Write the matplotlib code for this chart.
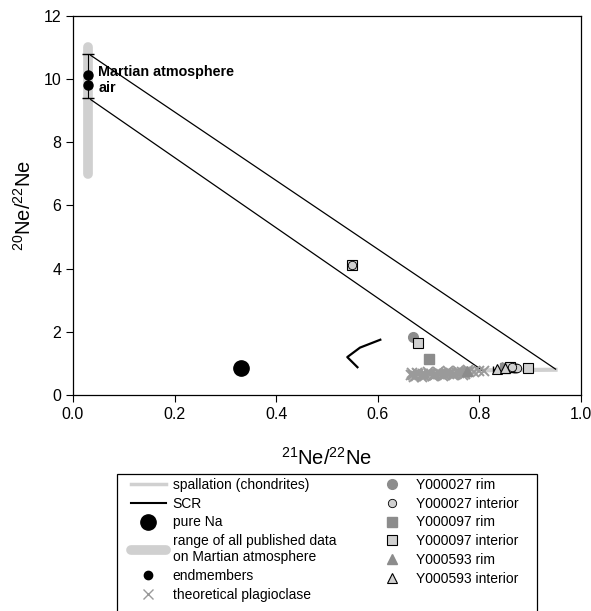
import numpy as np
import matplotlib.pyplot as plt
from matplotlib.lines import Line2D
from matplotlib.patches import Rectangle

plt.rcParams['font.family'] = ['Liberation Sans', 'DejaVu Sans']
plt.rcParams['mathtext.fontset'] = 'custom'
plt.rcParams['mathtext.rm'] = 'Liberation Sans'
plt.rcParams['mathtext.it'] = 'Liberation Sans'

grey = "#8c8c8c"
light = "#d0d0d0"

# spallation line (chondrites)
spall_x = [0.78, 0.95]
spall_y = [0.78, 0.80]

# SCR lines
scr_up_x = [0.035, 0.95]
scr_up_y = [10.75, 0.82]
scr_lo_x = [0.035, 0.805]
scr_lo_y = [9.35, 0.79]
scr_curve_x = [0.605, 0.565, 0.54, 0.56]
scr_curve_y = [1.75, 1.50, 1.20, 0.88]

# pure Na
na_x = [0.33]
na_y = [0.84]

# range of Martian atmosphere
range_x = [0.03, 0.03]
range_y = [7.0, 11.0]

# endmembers (Martian atmosphere, air)
end_x = [0.03, 0.03]
end_y = [10.13, 9.81]
end_err_lo = 9.4
end_err_hi = 10.8

# theoretical plagioclase
plag_x = [0.665, 0.67, 0.675, 0.68, 0.685, 0.69, 0.695, 0.70, 0.705, 0.71,
          0.715, 0.72, 0.725, 0.73, 0.735, 0.74, 0.745, 0.75, 0.755, 0.76,
          0.765, 0.77, 0.775, 0.78, 0.79, 0.80, 0.81,
          0.668, 0.678, 0.688, 0.698, 0.708, 0.718, 0.728, 0.738, 0.748,
          0.758, 0.768, 0.778, 0.672, 0.692, 0.712, 0.732, 0.752, 0.772]
plag_y = [0.62, 0.64, 0.61, 0.65, 0.63, 0.66, 0.62, 0.65, 0.67, 0.64,
          0.66, 0.68, 0.65, 0.67, 0.69, 0.66, 0.70, 0.68, 0.71, 0.69,
          0.72, 0.70, 0.73, 0.72, 0.74, 0.75, 0.76,
          0.70, 0.71, 0.57, 0.72, 0.59, 0.73, 0.60, 0.75, 0.62,
          0.76, 0.64, 0.79, 0.58, 0.60, 0.62, 0.63, 0.65, 0.67]

# samples
y27_rim_x = [0.67, 0.86, 0.87]
y27_rim_y = [1.85, 0.88, 0.86]
y27_int_x = [0.55, 0.875, 0.865]
y27_int_y = [4.12, 0.84, 0.90]
y97_rim_x = [0.70, 0.85]
y97_rim_y = [1.15, 0.86]
y97_int_x = [0.55, 0.68, 0.895, 0.86]
y97_int_y = [4.12, 1.65, 0.86, 0.90]
y593_rim_x = [0.775, 0.845, 0.86]
y593_rim_y = [0.76, 0.88, 0.90]
y593_int_x = [0.835, 0.85]
y593_int_y = [0.82, 0.86]

fig = plt.figure(figsize=(5.91, 6.11), dpi=100)
ax = fig.add_axes([0.1235, 0.3535, 0.8595, 0.6205])

ax.plot(range_x, range_y, color=light, lw=7, solid_capstyle='round', zorder=1)
ax.plot(spall_x, spall_y, color=light, lw=3, zorder=1)
ax.plot(scr_up_x, scr_up_y, color="k", lw=0.9, zorder=2)
ax.plot(scr_lo_x, scr_lo_y, color="k", lw=0.9, zorder=2)
ax.plot(scr_curve_x, scr_curve_y, color="k", lw=1.6, zorder=2)

ax.errorbar([0.03], [10.1], yerr=[[10.1 - end_err_lo], [end_err_hi - 10.1]],
            fmt='none', ecolor='k', elinewidth=0.8, capsize=4.5, zorder=3)
ax.errorbar(end_x, end_y, xerr=0.005, fmt='o', color='k', ms=6.5,
            elinewidth=0.8, capsize=2, zorder=4)
ax.text(0.05, 9.98, "Martian atmosphere\nair", fontsize=10.3, fontweight='bold',
        va='center', linespacing=1.2)

ax.plot(na_x, na_y, 'o', color='k', ms=11, zorder=4)
ax.plot(plag_x, plag_y, 'x', color='#9a9a9a', ms=7, mew=1.4, zorder=3)

ek = dict(fmt='none', ecolor='k', elinewidth=0.7, capsize=2, zorder=4)
ax.errorbar(y97_int_x, y97_int_y, xerr=0.006, yerr=0.08, **ek)
ax.errorbar(y593_int_x + y27_rim_x[1:], y593_int_y + y27_rim_y[1:], xerr=0.008, **ek)

ax.plot(y27_rim_x, y27_rim_y, 'o', color=grey, ms=7, zorder=5)
ax.plot(y97_rim_x, y97_rim_y, 's', color=grey, ms=7, zorder=5)
ax.plot(y593_rim_x, y593_rim_y, '^', color=grey, ms=7, zorder=5)
ax.plot(y97_int_x, y97_int_y, 's', mfc=light, mec='k', ms=7, mew=0.8, zorder=6)
ax.plot(y27_int_x, y27_int_y, 'o', mfc=light, mec='k', ms=6, mew=0.6, zorder=6)
ax.plot(y593_int_x, y593_int_y, '^', mfc=light, mec='k', ms=7, mew=0.8, zorder=6)

ax.set_xlim(0, 1.0)
ax.set_ylim(0, 12)
ax.set_xticks([0.0, 0.2, 0.4, 0.6, 0.8, 1.0])
ax.set_yticks([0, 2, 4, 6, 8, 10, 12])
ax.tick_params(direction='out', length=5, labelsize=11.5, top=False, right=False)
ax.set_xlabel(r'$^{21}$Ne/$^{22}$Ne', fontsize=14.5, labelpad=18)
ax.set_ylabel(r'$^{20}$Ne/$^{22}$Ne', fontsize=14.5, labelpad=6)
for s in ax.spines.values():
    s.set_linewidth(0.9)

handles = [
    Line2D([], [], color=light, lw=2.5),
    Line2D([], [], color='k', lw=1.5),
    Line2D([], [], marker='o', color='k', ms=11, ls='none'),
    Line2D([], [], color=light, lw=7, solid_capstyle='round'),
    Line2D([], [], marker='o', color='k', ms=6, ls='none'),
    Line2D([], [], marker='x', color='#9a9a9a', ms=7, ls='none'),
    Line2D([], [], marker='o', color=grey, ms=7, ls='none'),
    Line2D([], [], marker='o', mfc=light, mec='k', ms=6, mew=0.6, ls='none'),
    Line2D([], [], marker='s', color=grey, ms=7, ls='none'),
    Line2D([], [], marker='s', mfc=light, mec='k', ms=7, mew=0.8, ls='none'),
    Line2D([], [], marker='^', color=grey, ms=7, ls='none'),
    Line2D([], [], marker='^', mfc=light, mec='k', ms=7, mew=0.8, ls='none'),
]
labels = ["spallation (chondrites)", "SCR", "pure Na",
          "range of all published data\non Martian atmosphere",
          "endmembers", "theoretical plagioclase",
          "Y000027 rim", "Y000027 interior", "Y000097 rim",
          "Y000097 interior", "Y000593 rim", "Y000593 interior"]

# legend frame runs off the bottom of the figure, as in the original
fig.patches.append(Rectangle((117 / 591, -0.02), 420 / 591, (611 - 474) / 611 + 0.02,
                             transform=fig.transFigure, fill=False,
                             edgecolor='k', lw=0.9))
leg = fig.legend(handles, labels, ncol=2, loc='upper left',
                 bbox_to_anchor=(131 / 591, 1 - 478 / 611),
                 borderaxespad=0, borderpad=0, fontsize=10, frameon=False,
                 handlelength=2.5, columnspacing=2.75,
                 labelspacing=0.34, handletextpad=0.5)

fig.savefig("out.png", dpi=100)
